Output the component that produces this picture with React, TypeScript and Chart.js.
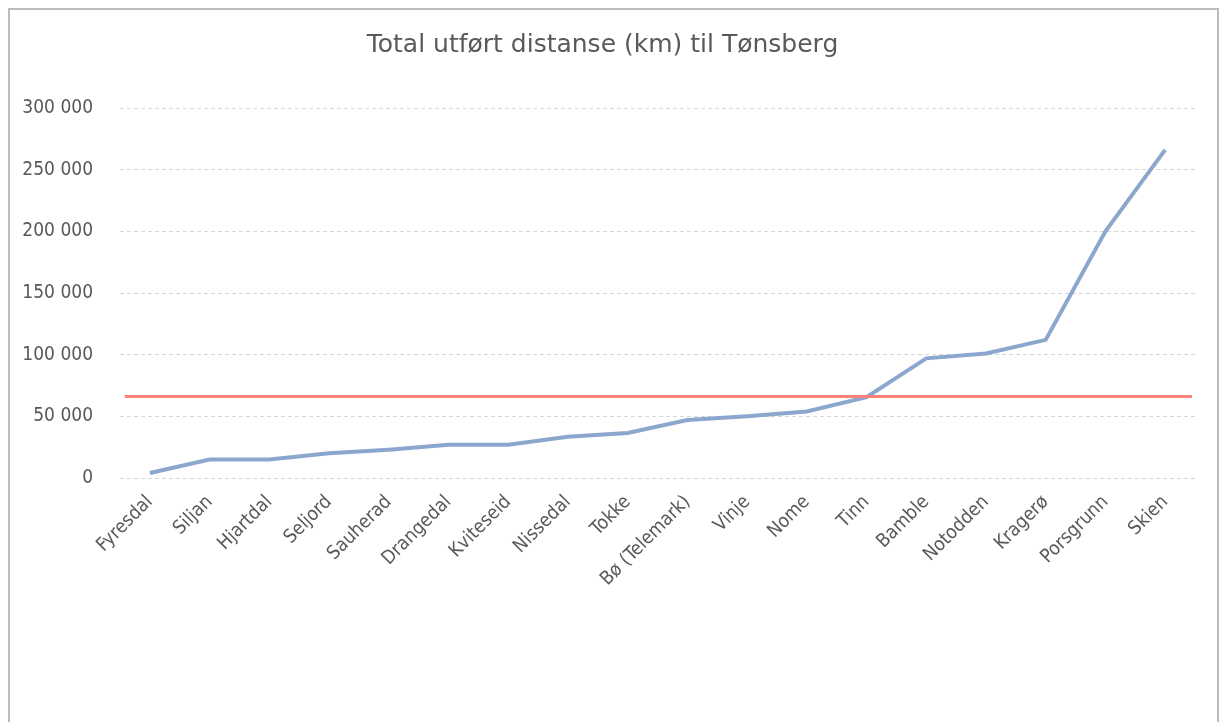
import React, { useEffect, useRef } from "react";
import { Chart, registerables } from "chart.js";

Chart.register(...registerables);

const categories = [
  "Fyresdal", "Siljan", "Hjartdal", "Seljord", "Sauherad", "Drangedal",
  "Kviteseid", "Nissedal", "Tokke", "Bø (Telemark)", "Vinje", "Nome",
  "Tinn", "Bamble", "Notodden", "Kragerø", "Porsgrunn", "Skien",
];

const distances = [
  4000, 15000, 15000, 20000, 23000, 27000,
  27000, 33500, 36500, 47000, 50000, 54000,
  65500, 97000, 101000, 112000, 200000, 266000,
];

const averageValue = 66000;

const yMin = 0;
const yMax = 300000;
const yStep = 50000;

const titleText = "Total utført distanse (km) til Tønsberg";

const tickFont = "'DejaVu Sans Condensed', 'Liberation Sans', sans-serif";
const titleFont = "'DejaVu Sans', sans-serif";

function formatThousands(v: number): string {
  return String(v).replace(/\B(?=(\d{3})+(?!\d))/g, " ");
}

export default function App() {
  const canvasRef = useRef<HTMLCanvasElement | null>(null);

  useEffect(() => {
    const canvas = canvasRef.current;
    if (!canvas) return;
    const chart = new Chart(canvas, {
      type: "line",
      data: {
        labels: categories,
        datasets: [
          {
            label: "Gjennomsnitt",
            data: [
              { x: -0.42, y: averageValue },
              { x: 17.45, y: averageValue },
            ],
            xAxisID: "x2",
            borderColor: "rgb(250,130,118)",
            borderWidth: 3,
            pointRadius: 0,
            tension: 0,
            fill: false,
          } as any,
          {
            label: "Distanse",
            data: distances,
            xAxisID: "x",
            borderColor: "rgb(140,167,206)",
            borderWidth: 4,
            pointRadius: 0,
            tension: 0,
            fill: false,
          },
        ],
      },
      options: {
        animation: false,
        responsive: false,
        maintainAspectRatio: false,
        layout: { padding: { left: 0, right: 22, top: 0, bottom: 0 } },
        plugins: {
          legend: { display: false },
          tooltip: { enabled: false },
          title: {
            display: true,
            text: titleText,
            color: "#595959",
            font: { family: titleFont, size: 25, weight: "normal" },
            padding: { top: 20, bottom: 48 },
          },
        },
        scales: {
          x: {
            type: "category",
            offset: true,
            grid: { display: false },
            border: { display: false },
            ticks: {
              color: "#595959",
              font: { family: tickFont, size: 19 },
              minRotation: 45,
              maxRotation: 45,
              autoSkip: false,
              padding: 5,
            },
            afterFit: (scale: any) => {
              scale.height = 244;
            },
          },
          x2: {
            type: "linear",
            display: false,
            min: -0.5,
            max: 17.5,
          },
          y: {
            min: yMin,
            max: yMax,
            grid: {
              color: "#d6d6d6",
              lineWidth: 1,
              drawTicks: false,
            },
            border: { display: false, dash: [4, 3] },
            ticks: {
              stepSize: yStep,
              color: "#595959",
              font: { family: tickFont, size: 19 },
              padding: 27,
              callback: (v: any) => formatThousands(Number(v)),
            },
            afterFit: (scale: any) => {
              scale.width = 110;
            },
          },
        },
      },
    });
    return () => chart.destroy();
  }, []);

  return (
    <div
      style={{
        position: "fixed",
        left: 8,
        top: 8,
        width: 1207,
        height: 740,
        borderLeft: "2px solid #bdbdbd",
        borderTop: "2px solid #bdbdbd",
        borderRight: "2px solid #bdbdbd",
        background: "#fff",
      }}
    >
      <canvas ref={canvasRef} width={1207} height={712} style={{ display: "block" }} />
    </div>
  );
}
